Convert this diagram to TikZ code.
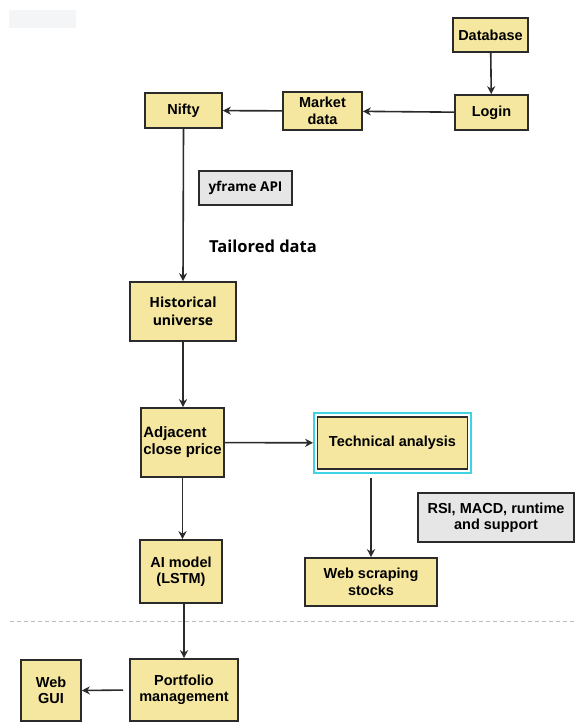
\documentclass[tikz,border=0pt]{standalone}
\usepackage{fontspec}
\setmainfont{Liberation Sans}
\newfontfamily\segoe{Open Sans}
\usetikzlibrary{arrows.meta}
\definecolor{boxfill}{HTML}{F5E7A0}
\definecolor{boxline}{HTML}{2B2B2B}
\definecolor{greyfill}{HTML}{E6E6E6}
\definecolor{selcyan}{HTML}{3FD3E3}
\definecolor{faint}{HTML}{F4F5F7}
\definecolor{dashgrey}{HTML}{BDBDBD}
\begin{document}
\begin{tikzpicture}[x=1pt,y=-1pt,
  box/.style={draw=boxline, fill=boxfill, line width=1.6pt, inner sep=1pt, align=center,
    font=\bfseries\fontsize{14.5}{16.5}\selectfont},
  note/.style={box, fill=greyfill},
  arr/.style={draw=boxline, line width=1.6pt, -{Stealth[length=8pt,width=8pt,inset=2.5pt]}}]
\useasboundingbox[fill=white] (0,0) rectangle (574,727);
\fill[faint] (9,10) rectangle (76,28);

\node[box, minimum width=75, minimum height=34] (db) at (490.5,35) {Database};
\node[box, minimum width=73, minimum height=35] (login) at (491.5,112.5) {Login};
\node[box, minimum width=79, minimum height=38] (market) at (322.5,111) {Market\\data};
\node[box, minimum width=77, minimum height=35] (nifty) at (183.5,110.5) {Nifty};
\node[note, minimum width=93, minimum height=34, font=\segoe\bfseries\fontsize{13.5}{16}\selectfont] (yf) at (245.5,188) {yframe API};
\node[font=\segoe\bfseries\fontsize{16.5}{18}\selectfont, inner sep=0pt] (tail) at (263,246) {Tailored data};
\node[box, minimum width=106, minimum height=59, font=\segoe\bfseries\fontsize{14}{18}\selectfont] (hist) at (183,311.5) {Historical\\universe};
\node[box, minimum width=83, minimum height=69, align=left, font=\bfseries\fontsize{15}{17}\selectfont] (adj) at (182.5,442.5) {Adjacent\\close price};
\node[draw=selcyan, line width=1.8pt, minimum width=157, minimum height=60] (techout) at (392.5,443) {};
\node[box, minimum width=150, minimum height=52] (tech) at (392.5,443) {Technical analysis};
\node[note, minimum width=156, minimum height=49] (rsi) at (496,517.5) {RSI, MACD, runtime\\and support};
\node[box, minimum width=132, minimum height=48] (web) at (371,582) {Web scraping\\stocks};
\node[box, minimum width=82, minimum height=63] (ai) at (181,571.5) {AI model\\(LSTM)};
\node[box, minimum width=108, minimum height=62] (port) at (184,690) {Portfolio\\management};
\node[box, minimum width=60, minimum height=61] (gui) at (51,690.5) {Web\\GUI};

\draw[dashgrey, line width=1pt, dash pattern=on 4pt off 3pt] (10,621) -- (574,621);

\draw[arr] (db) -- (login);
\draw[arr] (login) -- (market);
\draw[arr] (market) -- (nifty);
\draw[arr] (nifty.south) -- (hist.north);
\draw[arr] (hist.south) -- (adj.north -| hist.south);
\draw[arr] (adj) -- (techout);
\draw[arr, shorten <=4pt] (techout.south -| web.north) -- (web.north);
\draw[arr] (adj.south) -- (ai.north -| adj.south);
\draw[arr] (ai.south -| port.north) -- (port.north);
\draw[arr, shorten <=6pt] (port.west) -- (gui.east);
\end{tikzpicture}
\end{document}
